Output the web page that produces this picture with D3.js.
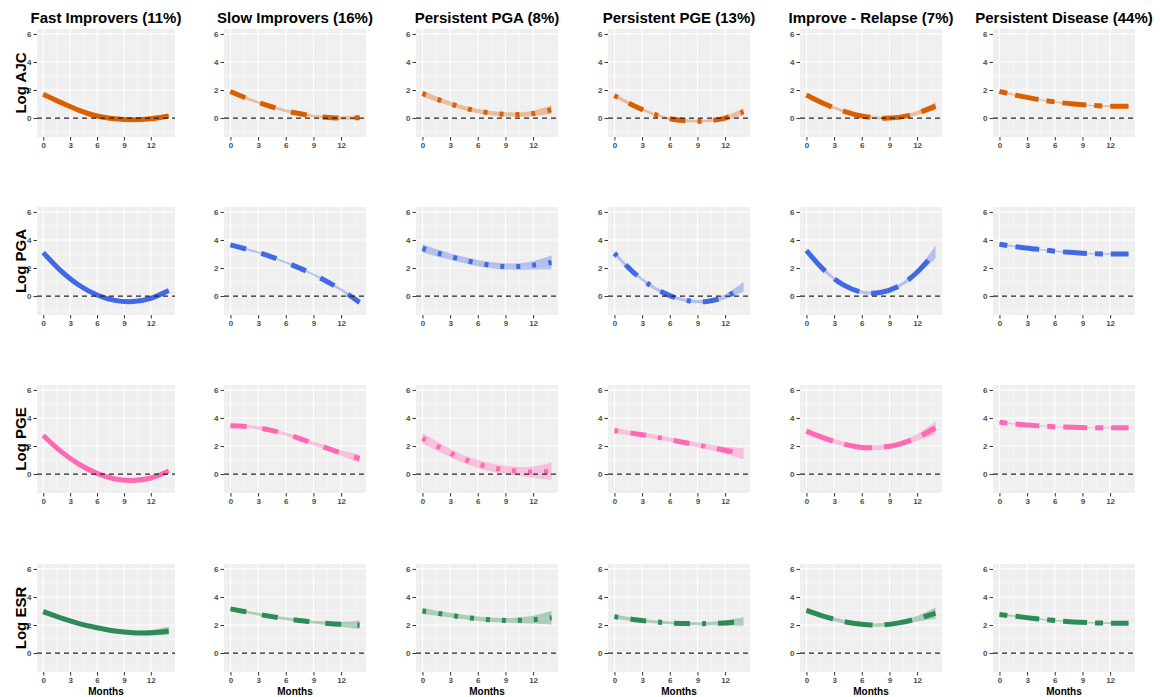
<!DOCTYPE html>
<html>
<head>
<meta charset="utf-8">
<script src="https://cdn.jsdelivr.net/npm/d3@7"></script>
<style>
  body { margin: 0; background: #fff; }
  text { font-family: "Liberation Sans", Arial, sans-serif; }
</style>
</head>
<body>
<script>
// trajectory groups (columns) and outcome measures (rows)
const groups = ["Fast Improvers (11%)", "Slow Improvers (16%)", "Persistent PGA (8%)",
  "Persistent PGE (13%)", "Improve - Relapse (7%)", "Persistent Disease (44%)"];
const measures = ["Log AJC", "Log PGA", "Log PGE", "Log ESR"];
const months = [0, 2, 4, 6, 8, 10, 12, 14];
const xTicks = [0, 3, 6, 9, 12];
const yTicks = [0, 2, 4, 6];

// fitted mean per group
const ajcFit = [
  [1.7, 1.1, 0.55, 0.15, -0.05, -0.12, -0.05, 0.15],
  [1.9, 1.35, 0.9, 0.52, 0.25, 0.08, 0.0, 0.03],
  [1.75, 1.25, 0.82, 0.5, 0.32, 0.25, 0.33, 0.6],
  [1.6, 0.92, 0.35, -0.05, -0.2, -0.2, 0.0, 0.45],
  [1.65, 1.0, 0.5, 0.15, 0.0, 0.05, 0.35, 0.85],
  [1.9, 1.6, 1.35, 1.15, 1.0, 0.9, 0.85, 0.85]
];
const pgaFit = [
  [3.1, 1.78, 0.77, 0.08, -0.31, -0.39, -0.16, 0.39],
  [3.65, 3.3, 2.9, 2.4, 1.85, 1.2, 0.45, -0.45],
  [3.4, 3.0, 2.65, 2.35, 2.15, 2.1, 2.2, 2.4],
  [3.05, 1.73, 0.72, 0.03, -0.33, -0.38, -0.05, 0.65],
  [3.25, 1.8, 0.8, 0.28, 0.25, 0.7, 1.7, 3.15],
  [3.7, 3.5, 3.35, 3.2, 3.1, 3.02, 3.0, 3.0]
];
const pgeFit = [
  [2.75, 1.6, 0.7, 0.05, -0.35, -0.45, -0.28, 0.22],
  [3.45, 3.38, 3.18, 2.85, 2.42, 1.95, 1.5, 1.1],
  [2.55, 1.85, 1.2, 0.72, 0.4, 0.22, 0.14, 0.2],
  [3.1, 2.9, 2.7, 2.45, 2.2, 1.95, 1.7, 1.45],
  [3.05, 2.55, 2.15, 1.9, 1.9, 2.12, 2.6, 3.3],
  [3.7, 3.55, 3.45, 3.38, 3.33, 3.3, 3.3, 3.3]
];
const esrFit = [
  [2.95, 2.5, 2.1, 1.8, 1.57, 1.45, 1.45, 1.58],
  [3.15, 2.9, 2.65, 2.45, 2.28, 2.15, 2.05, 2.0],
  [3.0, 2.8, 2.6, 2.45, 2.35, 2.33, 2.38, 2.52],
  [2.6, 2.4, 2.25, 2.15, 2.1, 2.1, 2.15, 2.25],
  [3.05, 2.6, 2.25, 2.05, 2.0, 2.15, 2.45, 2.85],
  [2.75, 2.6, 2.45, 2.32, 2.22, 2.16, 2.13, 2.12]
];

// half width of the confidence band
const ajcBand = [
  [0.12, 0.08, 0.07, 0.07, 0.07, 0.07, 0.08, 0.12],
  [0.15, 0.1, 0.1, 0.1, 0.1, 0.1, 0.12, 0.15],
  [0.22, 0.18, 0.15, 0.15, 0.15, 0.15, 0.2, 0.3],
  [0.15, 0.12, 0.1, 0.1, 0.1, 0.1, 0.15, 0.25],
  [0.15, 0.12, 0.1, 0.1, 0.1, 0.1, 0.15, 0.28],
  [0.08, 0.06, 0.05, 0.05, 0.05, 0.05, 0.06, 0.08]
];
const pgaBand = [
  [0.12, 0.08, 0.07, 0.07, 0.07, 0.07, 0.08, 0.15],
  [0.1, 0.08, 0.07, 0.07, 0.07, 0.08, 0.1, 0.15],
  [0.3, 0.25, 0.22, 0.22, 0.22, 0.22, 0.3, 0.5],
  [0.15, 0.12, 0.12, 0.12, 0.12, 0.12, 0.18, 0.35],
  [0.2, 0.15, 0.12, 0.12, 0.12, 0.12, 0.2, 0.45],
  [0.08, 0.06, 0.05, 0.05, 0.05, 0.05, 0.06, 0.08]
];
const pgeBand = [
  [0.1, 0.07, 0.06, 0.06, 0.06, 0.06, 0.08, 0.12],
  [0.15, 0.12, 0.12, 0.12, 0.12, 0.15, 0.2, 0.3],
  [0.38, 0.32, 0.28, 0.28, 0.28, 0.3, 0.4, 0.62],
  [0.2, 0.15, 0.15, 0.15, 0.15, 0.18, 0.25, 0.4],
  [0.25, 0.2, 0.18, 0.18, 0.18, 0.18, 0.25, 0.45],
  [0.07, 0.05, 0.04, 0.04, 0.04, 0.04, 0.05, 0.07]
];
const esrBand = [
  [0.2, 0.16, 0.14, 0.14, 0.14, 0.15, 0.2, 0.3],
  [0.12, 0.1, 0.1, 0.1, 0.1, 0.12, 0.18, 0.3],
  [0.22, 0.18, 0.16, 0.16, 0.16, 0.18, 0.28, 0.5],
  [0.15, 0.12, 0.1, 0.1, 0.1, 0.12, 0.18, 0.3],
  [0.2, 0.15, 0.12, 0.12, 0.12, 0.12, 0.2, 0.4],
  [0.08, 0.06, 0.05, 0.05, 0.05, 0.05, 0.06, 0.08]
];

const fits = [ajcFit, pgaFit, pgeFit, esrFit];
const bands = [ajcBand, pgaBand, pgeBand, esrBand];

const colours = ["#D95F02", "#4169E1", "#FF69B4", "#2E8B57"];
// ggplot linetypes: solid, dashed, dotted, dotdash, longdash, twodash
const dashes = [null, "16,16", "4,12", "4,12,16,12", "28,12", "8,8,24,8"];

const w = 1160;
const h = 697;
const panelLeft = [37, 224, 416, 608, 800, 993];
const panelW = [138, 142, 142, 142, 142, 142];
const panelTop = [29, 207, 385, 564];
const panelH = 108;

let svg = d3.select("body").append("svg")
  .attr("width", w)
  .attr("height", h);

measures.forEach((m, r) => {
  groups.forEach((g, c) => {
    let x = d3.scaleLinear().domain([-0.7, 14.7]).range([panelLeft[c], panelLeft[c] + panelW[c]]);
    let y = d3.scaleLinear().domain([-1.35, 6.35]).range([panelTop[r] + panelH, panelTop[r]]);
    let p = svg.append("g");

    p.append("rect")
      .attr("x", x.range()[0])
      .attr("y", y.range()[1])
      .attr("width", panelW[c])
      .attr("height", panelH)
      .attr("fill", "#EFEFEF");

    // minor grid
    p.selectAll(".minx").data([1.5, 4.5, 7.5, 10.5, 13.5]).enter().append("line")
      .attr("x1", d => x(d)).attr("x2", d => x(d))
      .attr("y1", y.range()[0]).attr("y2", y.range()[1])
      .attr("stroke", "#fff").attr("stroke-width", 0.5);
    p.selectAll(".miny").data([-1, 1, 3, 5]).enter().append("line")
      .attr("y1", d => y(d)).attr("y2", d => y(d))
      .attr("x1", x.range()[0]).attr("x2", x.range()[1])
      .attr("stroke", "#fff").attr("stroke-width", 0.5);
    // major grid
    p.selectAll(".majx").data(xTicks).enter().append("line")
      .attr("x1", d => x(d)).attr("x2", d => x(d))
      .attr("y1", y.range()[0]).attr("y2", y.range()[1])
      .attr("stroke", "#fff").attr("stroke-width", 1.1);
    p.selectAll(".majy").data(yTicks).enter().append("line")
      .attr("y1", d => y(d)).attr("y2", d => y(d))
      .attr("x1", x.range()[0]).attr("x2", x.range()[1])
      .attr("stroke", "#fff").attr("stroke-width", 1.1);

    let pts = months.map((mo, i) => ({ m: mo, v: fits[r][c][i], b: bands[r][c][i] }));

    let area = d3.area()
      .x(d => x(d.m))
      .y0(d => y(d.v - d.b))
      .y1(d => y(d.v + d.b))
      .curve(d3.curveCatmullRom.alpha(0.5));
    p.append("path")
      .datum(pts)
      .attr("d", area)
      .attr("fill", colours[r])
      .attr("fill-opacity", 0.35);

    let line = d3.line()
      .x(d => x(d.m))
      .y(d => y(d.v))
      .curve(d3.curveCatmullRom.alpha(0.5));
    p.append("path")
      .datum(pts)
      .attr("d", line)
      .attr("fill", "none")
      .attr("stroke", colours[r])
      .attr("stroke-width", 5)
      .attr("stroke-dasharray", dashes[c]);

    // reference line at zero
    p.append("line")
      .attr("x1", x.range()[0]).attr("x2", x.range()[1])
      .attr("y1", y(0)).attr("y2", y(0))
      .attr("stroke", "#222")
      .attr("stroke-width", 1.2)
      .attr("stroke-dasharray", "5,4");

    let xAxis = p.append("g")
      .attr("transform", "translate(0," + y.range()[0] + ")")
      .call(d3.axisBottom(x).tickValues(xTicks).tickSize(3.5).tickPadding(2));
    let yAxis = p.append("g")
      .attr("transform", "translate(" + x.range()[0] + ",0)")
      .call(d3.axisLeft(y).tickValues(yTicks).tickSize(3.5).tickPadding(2));
    [xAxis, yAxis].forEach(a => {
      a.select(".domain").remove();
      a.selectAll(".tick line").attr("stroke", "#333");
      a.selectAll(".tick text")
        .attr("fill", "#4D4D4D")
        .style("font-size", "8px")
        .style("font-weight", "bold")
        .style("font-family", "'Liberation Sans', Arial, sans-serif");
    });

    if (r === 0) {
      svg.append("text")
        .attr("x", (x.range()[0] + x.range()[1]) / 2)
        .attr("y", 23)
        .attr("text-anchor", "middle")
        .style("font-size", "15px")
        .style("font-weight", "bold")
        .text(g);
    }
    if (c === 0) {
      svg.append("text")
        .attr("transform", "translate(26," + (y.range()[0] + y.range()[1]) / 2 + ") rotate(-90)")
        .attr("text-anchor", "middle")
        .style("font-size", "15px")
        .style("font-weight", "bold")
        .text(m);
    }
    if (r === measures.length - 1) {
      svg.append("text")
        .attr("x", (x.range()[0] + x.range()[1]) / 2)
        .attr("y", 695)
        .attr("text-anchor", "middle")
        .style("font-size", "10px")
        .style("font-weight", "bold")
        .text("Months");
    }
  });
});
</script>
</body>
</html>
